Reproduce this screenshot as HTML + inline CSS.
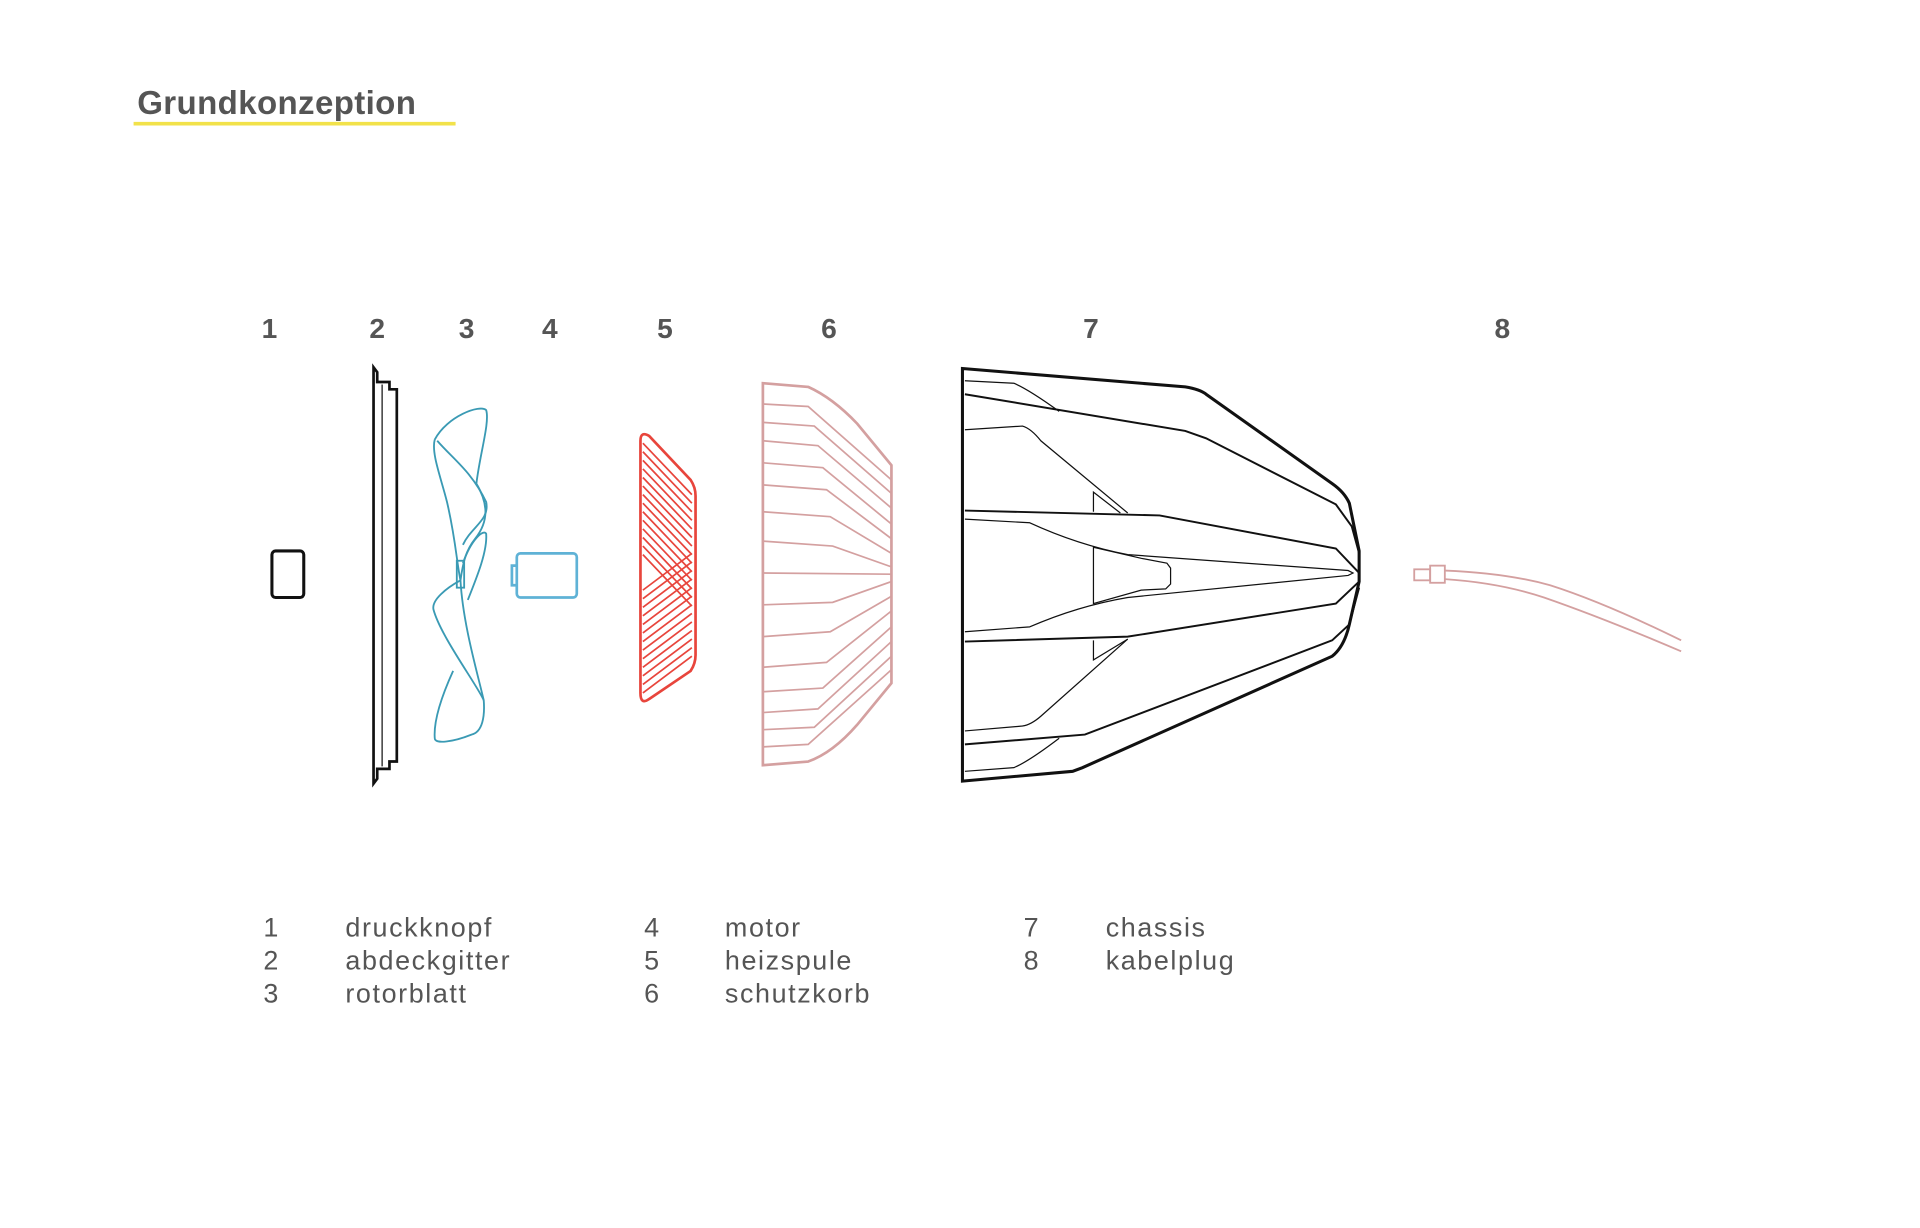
<!DOCTYPE html>
<html><head><meta charset="utf-8"><style>
html,body{margin:0;padding:0;background:#fff;}
svg{display:block;}
text{font-family:"Liberation Sans",sans-serif;fill:#555;}
</style></head><body>
<svg width="1920" height="1228" viewBox="0 0 1568 1003" xmlns="http://www.w3.org/2000/svg">
<text x="112" y="93" font-size="27" font-weight="bold" fill="#555" letter-spacing="0.3">Grundkonzeption</text>
<line x1="109" y1="101" x2="372" y2="101" stroke="#f2e24a" stroke-width="3"/>
<g font-size="23" font-weight="bold" text-anchor="middle">
<text x="220" y="276">1</text><text x="308" y="276">2</text><text x="381" y="276">3</text><text x="449" y="276">4</text>
<text x="543" y="276">5</text><text x="677" y="276">6</text><text x="891" y="276">7</text><text x="1227" y="276">8</text>
</g>
<!-- 1 -->
<rect x="222" y="450" width="26" height="38" rx="3" fill="none" stroke="#111" stroke-width="2.5"/>
<!-- 2 -->
<path d="M305,300 L308,304 L308,312 L318,312 L318,318 L324,318 L324,622 L318,622 L318,628 L308,628 L308,636 L305,640 Z" fill="none" stroke="#111" stroke-width="2.2"/>
<line x1="312" y1="314" x2="312" y2="626" stroke="#111" stroke-width="1"/>
<!-- 3 rotor -->
<g fill="none" stroke="#3a9ab4" stroke-width="1.5">
<path d="M355,359 C365,340 392,330 397,335 C400,345 392,370 389,395 C398,410 400,425 388,440 C380,450 378,460 376,474"/>
<path d="M355,359 C352,370 360,390 365,410 C372,440 373,460 376,474"/>
<path d="M357,360 C370,375 385,385 397,410 C400,425 385,430 378,445"/>
<path d="M378,460 C385,440 395,432 397,436 C398,450 390,470 382,490"/>
<path d="M376,474 C365,480 352,490 354,498 C360,520 390,560 395,572"/>
<path d="M376,474 C378,510 390,550 395,572 C396,585 394,598 385,600 C370,606 355,608 355,603 C354,590 360,570 370,548"/>
<rect x="373" y="458" width="6" height="22"/>
</g>
<!-- 4 motor -->
<g fill="none" stroke="#5fb2d6" stroke-width="2.2">
<rect x="422" y="452" width="49" height="36" rx="3"/>
<path d="M422,462 L418,462 L418,478 L422,478"/>
</g>
<!-- 5 coil -->
<g fill="none" stroke="#e8453c" stroke-width="1.4">
<path d="M523,360 Q523,352 530,356 L564,392 Q568,398 568,405 L568,535 Q568,542 564,548 L530,571 Q523,576 523,566 Z" stroke-width="2.2"/>
<path d="M525,362 L565,404 M525,369 L565,411 M525,376 L565,418 M525,383 L565,425 M525,390 L565,432 M525,397 L565,439 M525,404 L565,446 M525,411 L565,453 M525,418 L565,460 M525,425 L565,467 M525,432 L565,474 M525,439 L565,481 M525,446 L565,488 M525,453 L565,495"/>
<path d="M525,566 L565,536 M525,559 L565,529 M525,552 L565,522 M525,545 L565,515 M525,538 L565,508 M525,531 L565,501 M525,524 L565,494 M525,517 L565,487 M525,510 L565,480 M525,503 L565,473 M525,496 L565,466 M525,489 L565,459 M525,482 L565,452"/>
</g>
<!-- 6 cage -->
<g fill="none" stroke="#d4a0a0" stroke-width="1.4">
<path d="M623,313 L660,316 Q680,325 700,346 L728,380 L728,558 L700,592 Q680,615 660,622 L623,625 Z" stroke-width="2.2"/>
<path d="M623,330 L660,332 L728,392 M623,345 L665,348 L728,403 M623,360 L668,364 L728,415 M623,378 L672,382 L728,428 M623,396 L675,400 L728,440 M623,418 L678,422 L728,452 M623,442 L680,446 L728,463 M623,468 L728,469 M623,494 L680,492 L728,475 M623,520 L678,516 L728,487 M623,545 L675,541 L728,499 M623,565 L672,562 L728,512 M623,582 L668,579 L728,524 M623,596 L665,594 L728,536 M623,610 L660,608 L728,547"/>
</g>
<!-- 7 chassis -->
<g fill="none" stroke="#111">
<path d="M786,301 L968,316 Q980,318 985,322 L1088,395 Q1098,402 1102,411 L1110,450 L1110,475 L1102,510 Q1098,528 1088,536 L884,627 L876,630 L786,638 Z" stroke-width="2.5"/>
<path d="M788,322 L968,352 L985,358 L1091,412 L1104,430 L1110,452" stroke-width="1.6"/>
<path d="M788,417 L947,421 L1091,448 L1110,468" stroke-width="1.6"/>
<path d="M788,524 L921,520 L1091,493 L1110,475" stroke-width="1.6"/>
<path d="M788,608 L886,600 L1088,523 L1102,510 L1110,480" stroke-width="1.6"/>
<path d="M788,311 L828,313 Q840,318 865,336" stroke-width="1"/>
<path d="M788,351 L835,348 Q842,350 850,360 L921,419" stroke-width="1"/>
<path d="M893,418 L893,402 L915,419" stroke-width="1"/>
<path d="M788,424 L841,427 Q880,445 921,453 L1101,466 L1105,468 L1101,470 L921,488 Q880,495 841,512 L788,516" stroke-width="1"/>
<path d="M893,447 L932,456 L953,460 L956,464 L956,477 L952,481 L932,482 L893,493 Z" stroke-width="1"/>
<path d="M893,523 L893,539 L921,522" stroke-width="1"/>
<path d="M921,522 L850,585 Q842,592 835,593 L788,597" stroke-width="1"/>
<path d="M865,603 Q840,622 828,627 L788,630" stroke-width="1"/>
</g>
<!-- 8 plug -->
<g fill="none" stroke="#d4a0a0" stroke-width="1.5">
<rect x="1155" y="465" width="13" height="9"/>
<rect x="1168" y="462" width="12" height="14"/>
<path d="M1180,466 Q1230,468 1266,478 Q1310,492 1373,523"/>
<path d="M1180,473 Q1225,476 1261,488 Q1310,505 1373,532"/>
</g>
<!-- legend -->
<g font-size="22" style="fill:#666" letter-spacing="1.3">
<text x="215" y="765">1</text><text x="282" y="765">druckknopf</text>
<text x="215" y="792">2</text><text x="282" y="792">abdeckgitter</text>
<text x="215" y="819">3</text><text x="282" y="819">rotorblatt</text>
<text x="526" y="765">4</text><text x="592" y="765">motor</text>
<text x="526" y="792">5</text><text x="592" y="792">heizspule</text>
<text x="526" y="819">6</text><text x="592" y="819">schutzkorb</text>
<text x="836" y="765">7</text><text x="903" y="765">chassis</text>
<text x="836" y="792">8</text><text x="903" y="792">kabelplug</text>
</g>
</svg>
</body></html>
